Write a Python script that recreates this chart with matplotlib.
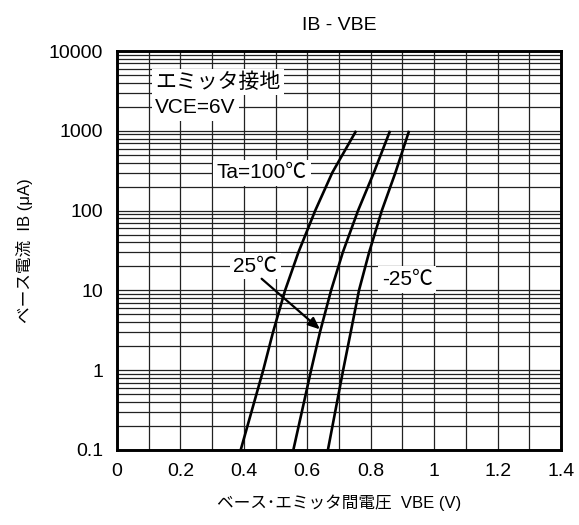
import numpy as np
import matplotlib
matplotlib.use("Agg")
import matplotlib.pyplot as plt
from matplotlib.ticker import LogLocator, FixedLocator, NullFormatter

plt.rcParams['font.family'] = ['Liberation Sans', 'Noto Sans CJK JP', 'DejaVu Sans']

# base current IB (uA) and read-off VBE (V) for each ambient temperature
ib = [0.1, 1, 3, 10, 30, 100, 300, 1000]
vbe_100 = [0.390, 0.461, 0.492, 0.530, 0.572, 0.625, 0.679, 0.754]
vbe_25 = [0.556, 0.612, 0.640, 0.675, 0.712, 0.760, 0.810, 0.861]
vbe_m25 = [0.665, 0.713, 0.737, 0.763, 0.795, 0.835, 0.878, 0.921]

x_ticks = [0, 0.2, 0.4, 0.6, 0.8, 1, 1.2, 1.4]
x_tick_labels = ["0", "0.2", "0.4", "0.6", "0.8", "1", "1.2", "1.4"]
y_ticks = [0.1, 1, 10, 100, 1000, 10000]
y_tick_labels = ["0.1", "1", "10", "100", "1000", "10000"]

fig = plt.figure(figsize=(5.79, 5.25), dpi=100)
ax = fig.add_axes([117 / 579, 75 / 525, 444 / 579, 399 / 525])

for v in (vbe_100, vbe_25, vbe_m25):
    ax.plot(v, ib, color="black", lw=1.9, zorder=3, solid_capstyle="butt")

ax.set_yscale("log")
ax.set_xlim(0, 1.4)
ax.set_ylim(0.1, 10000)

ax.xaxis.set_major_locator(FixedLocator(x_ticks))
ax.set_xticklabels(x_tick_labels)
ax.xaxis.set_minor_locator(FixedLocator(np.arange(0.1, 1.4, 0.2)))
ax.yaxis.set_major_locator(FixedLocator(y_ticks))
ax.set_yticklabels(y_tick_labels)
ax.yaxis.set_minor_locator(LogLocator(base=10, subs=np.arange(2, 10), numticks=20))
ax.yaxis.set_minor_formatter(NullFormatter())

ax.grid(which="both", color="#222222", lw=0.9, zorder=1)
ax.tick_params(which="both", length=0, labelsize=14)
ax.tick_params(axis="y", pad=10)
ax.tick_params(axis="x", pad=9)
for s in ax.spines.values():
    s.set_linewidth(2.1)
    s.set_zorder(4)

box = dict(facecolor="white", edgecolor="none", pad=2.5)
ax.text(0.12, 4100, "エミッタ接地", fontsize=15, bbox=box, zorder=5, va="center")
ax.text(0.12, 1940, "VCE=6V", fontsize=15, bbox=box, zorder=5, va="center")
ax.text(0.315, 299, "Ta=100℃", fontsize=15, bbox=box, zorder=5, va="center")
ax.text(0.366, 20, "25℃", fontsize=15, bbox=box, zorder=5, va="center")
ax.text(0.915, 13.7, "-25℃", fontsize=15, bbox=box, zorder=5, va="center", ha="center")
ax.annotate("", xy=(0.640, 3.25), xytext=(0.456, 14.0),
            arrowprops=dict(arrowstyle="-|>,head_length=0.7,head_width=0.3",
                            color="black", lw=1.6, shrinkA=0, shrinkB=0), zorder=5)

ax.set_title("IB - VBE", fontsize=14, pad=15)
ax.set_xlabel("ベース･エミッタ間電圧  VBE (V)", fontsize=12, va="center")
ax.xaxis.set_label_coords(0.5, -53 / 399)
ax.set_ylabel("ベース電流  IB (μA)", fontsize=12, va="center")
ax.yaxis.set_label_coords(-93 / 444, 0.5)

fig.savefig("out.png", dpi=100)
